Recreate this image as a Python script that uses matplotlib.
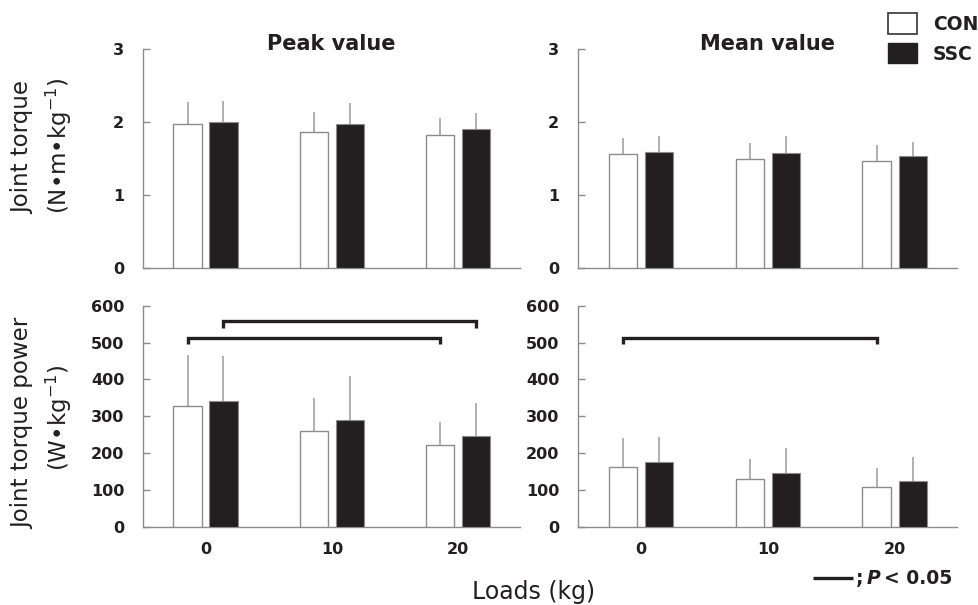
import matplotlib
matplotlib.use("Agg")
import matplotlib.pyplot as plt
from matplotlib.lines import Line2D
from matplotlib.patches import Rectangle
import numpy as np

plt.rcParams['font.family'] = ['DejaVu Sans']

# ---------------- data ----------------
loads = ["0", "10", "20"]
groups = ["CON", "SSC"]

torque_peak_con = [1.97, 1.86, 1.82]
torque_peak_con_sd = [0.31, 0.28, 0.24]
torque_peak_ssc = [2.00, 1.97, 1.91]
torque_peak_ssc_sd = [0.29, 0.29, 0.22]

torque_mean_con = [1.56, 1.50, 1.46]
torque_mean_con_sd = [0.22, 0.21, 0.22]
torque_mean_ssc = [1.59, 1.57, 1.54]
torque_mean_ssc_sd = [0.22, 0.24, 0.19]

power_peak_con = [328, 260, 222]
power_peak_con_sd = [138, 89, 62]
power_peak_ssc = [341, 290, 247]
power_peak_ssc_sd = [122, 119, 88]

power_mean_con = [163, 129, 109]
power_mean_con_sd = [77, 55, 50]
power_mean_ssc = [175, 146, 124]
power_mean_ssc_sd = [69, 69, 64]

# significance brackets: (group, load_from, load_to, height)
sig_power_peak = [("CON", 0, 2, 513), ("SSC", 0, 2, 558)]
sig_power_mean = [("CON", 0, 2, 513)]

torque_ticks = [0, 1, 2, 3]
power_ticks = [0, 100, 200, 300, 400, 500, 600]

# ---------------- style ----------------
W, H = 979, 605
DARK = '#231f20'
GRAY = '#8c8c8c'
ERR = '#a3a3a3'
OFF = 0.142
BW = 0.225

fig = plt.figure(figsize=(W / 100, H / 100), dpi=100)


def px_axes(l, r, t, b):
    return fig.add_axes([l / W, 1 - b / H, (r - l) / W, (b - t) / H])


def draw_panel(ax, con, con_sd, ssc, ssc_sd, ticks, ylim, show_x, sig=None, bracket_drop=None):
    x = np.arange(len(loads))
    ax.bar(x - OFF, con, BW, color='white', edgecolor=GRAY, linewidth=1.0, zorder=3)
    ax.bar(x + OFF, ssc, BW, color=DARK, edgecolor=GRAY, linewidth=0.8, zorder=3)
    ax.vlines(x - OFF, con, np.array(con) + np.array(con_sd), color=ERR, linewidth=1.2, zorder=2)
    ax.vlines(x + OFF, ssc, np.array(ssc) + np.array(ssc_sd), color=ERR, linewidth=1.2, zorder=2)
    ax.set_xlim(-0.495, 2.49)
    ax.set_ylim(*ylim)
    ax.set_yticks(ticks)
    ax.set_yticklabels([str(t) for t in ticks], fontsize=11.5, fontweight='bold', color=DARK)
    for s in ['top', 'right']:
        ax.spines[s].set_visible(False)
    for s in ['left', 'bottom']:
        ax.spines[s].set_color(GRAY)
        ax.spines[s].set_linewidth(1.0)
    ax.tick_params(axis='y', direction='in', length=5, width=1.0, color=GRAY, pad=13.5)
    ax.tick_params(axis='x', length=0, pad=11.2)
    ax.set_xticks(x)
    if show_x:
        ax.set_xticklabels(loads, fontsize=11.5, fontweight='bold', color=DARK)
    else:
        ax.set_xticklabels([])
    if sig:
        for g, a, b, h in sig:
            o = -OFF if g == "CON" else OFF
            xa, xb = a + o, b + o
            ax.plot([xa, xa, xb, xb], [h - bracket_drop, h, h, h - bracket_drop],
                    color=DARK, linewidth=2.4, solid_joinstyle='miter',
                    solid_capstyle='butt', clip_on=False, zorder=4)


ax1 = px_axes(143, 520, 49, 268)
ax2 = px_axes(578, 957, 49, 268)
ax3 = px_axes(143, 520, 305.7, 526.7)
ax4 = px_axes(578, 957, 305.7, 526.7)

draw_panel(ax1, torque_peak_con, torque_peak_con_sd, torque_peak_ssc, torque_peak_ssc_sd,
           torque_ticks, (0, 3), False)
draw_panel(ax2, torque_mean_con, torque_mean_con_sd, torque_mean_ssc, torque_mean_ssc_sd,
           torque_ticks, (0, 3), False)
draw_panel(ax3, power_peak_con, power_peak_con_sd, power_peak_ssc, power_peak_ssc_sd,
           power_ticks, (0, 600), True, sig_power_peak, 18)
draw_panel(ax4, power_mean_con, power_mean_con_sd, power_mean_ssc, power_mean_ssc_sd,
           power_ticks, (0, 600), True, sig_power_mean, 18)

# titles
fig.text(331.5 / W, 1 - 50 / H, "Peak value", ha='center', va='baseline',
         fontsize=15, fontweight='bold', color=DARK)
fig.text(767.5 / W, 1 - 50 / H, "Mean value", ha='center', va='baseline',
         fontsize=15, fontweight='bold', color=DARK)

# y labels
fig.text(23 / W, 1 - 147 / H, "Joint torque", rotation=90, ha='center', va='center',
         fontsize=16.5, color=DARK)
fig.text(59 / W, 1 - 146 / H, "(N\u2022m\u2022kg$^{-1}$)", rotation=90, ha='center', va='center',
         fontsize=16.5, color=DARK)
fig.text(23 / W, 1 - 423 / H, "Joint torque power", rotation=90, ha='center', va='center',
         fontsize=16.5, color=DARK)
fig.text(59 / W, 1 - 418 / H, "(W\u2022kg$^{-1}$)", rotation=90, ha='center', va='center',
         fontsize=16.5, color=DARK)

# x label
fig.text(534 / W, 1 - 598.5 / H, "Loads (kg)", ha='center', va='baseline', fontsize=17, color=DARK)

# group legend
fig.add_artist(Rectangle((888 / W, 1 - 34.3 / H), 29 / W, 21 / H, transform=fig.transFigure,
                         facecolor='white', edgecolor='#333333', linewidth=1.2))
fig.add_artist(Rectangle((888 / W, 1 - 63 / H), 29 / W, 20 / H, transform=fig.transFigure,
                         facecolor=DARK, edgecolor=DARK, linewidth=1.0))
fig.text(933 / W, 1 - 24 / H, groups[0], ha='left', va='center', fontsize=13.5,
         fontweight='bold', color=DARK)
fig.text(933 / W, 1 - 54 / H, groups[1], ha='left', va='center', fontsize=13.5,
         fontweight='bold', color=DARK)

# significance legend
fig.add_artist(Line2D([813 / W, 853 / W], [1 - 577.5 / H, 1 - 577.5 / H], transform=fig.transFigure,
                      color=DARK, linewidth=2.4, solid_capstyle='butt'))
fig.text(856 / W, 1 - 584 / H, ";", ha='left', va='baseline', fontsize=13.5,
         fontweight='bold', color=DARK)
fig.text(867 / W, 1 - 584 / H, "P", ha='left', va='baseline', fontsize=13.5,
         fontweight='bold', fontstyle='italic', color=DARK)
fig.text(884 / W, 1 - 584 / H, "< 0.05", ha='left', va='baseline', fontsize=13.5,
         fontweight='bold', color=DARK)

fig.savefig("out.png", dpi=100)
